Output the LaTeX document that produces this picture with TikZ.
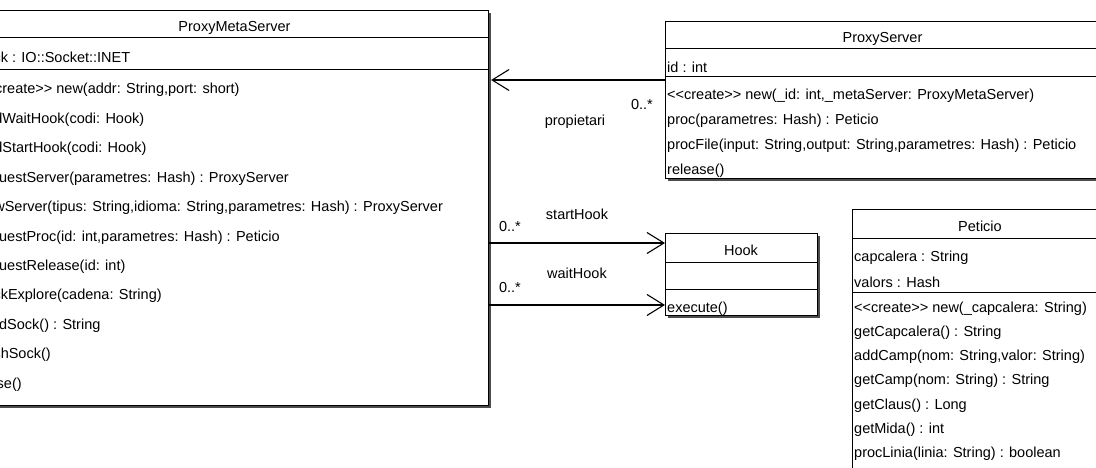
\documentclass[tikz,border=0pt]{standalone}
\usepackage{fontspec}
\setmainfont{Liberation Sans}
\usetikzlibrary{arrows.meta,shadows}
\newcommand{\stereo}[1]{<\kern0pt<#1>\kern0pt>}
\begin{document}
\begin{tikzpicture}[x=1pt,y=-1pt,
  font=\fontsize{14.5}{17}\selectfont,
  umlbox/.style={draw=black, line width=1.1pt, fill=white, anchor=north west, inner sep=0pt,
    general shadow={fill=black!70, shadow xshift=2pt, shadow yshift=-2pt}},
  sepline/.style={line width=1pt},
  txt/.style={anchor=base west, inner sep=0pt},
  ttl/.style={anchor=base, inner sep=0pt},
  lbl/.style={inner sep=0pt},
  nav/.style={line width=1.1pt, -{Straight Barb[length=17pt,width=21pt]}}
]
\useasboundingbox (0,0) rectangle (1096,468);
\clip (0,0) rectangle (1096,468);

% ---------------- ProxyMetaServer
\node[umlbox, minimum width=512pt, minimum height=395pt] (pms) at (-24,10) {};
\draw[sepline] ([yshift=-28pt]pms.north west) -- ([yshift=-28pt]pms.north east);
\draw[sepline] ([yshift=-60pt]pms.north west) -- ([yshift=-60pt]pms.north east);
\node[ttl] (pmsT) at (234.5,32) {ProxyMetaServer};
\node[txt] (pmsA) at (-22,63) {sock : IO::Socket::INET};
\node[txt] (pmsM0) at (-22,94) {\stereo{create} new(addr: String,port: short)};
\node[txt] (pmsM1) at (-22,123.4) {addWaitHook(codi: Hook)};
\node[txt] (pmsM2) at (-22,152.8) {addStartHook(codi: Hook)};
\node[txt] (pmsM3) at (-22,182.2) {requestServer(parametres: Hash) : ProxyServer};
\node[txt] (pmsM4) at (-22,211.6) {newServer(tipus: String,idioma: String,parametres: Hash) : ProxyServer};
\node[txt] (pmsM5) at (-22,241) {requestProc(id: int,parametres: Hash) : Peticio};
\node[txt] (pmsM6) at (-22,270.4) {requestRelease(id: int)};
\node[txt] (pmsM7) at (-22,299.8) {sockExplore(cadena: String)};
\node[txt] (pmsM8) at (-22,329.2) {readSock() : String};
\node[txt] (pmsM9) at (-22,358.6) {flushSock()};
\node[txt] (pmsM10) at (-22,388) {close()};

% ---------------- ProxyServer
\node[umlbox, minimum width=435pt, minimum height=157pt] (ps) at (665,21) {};
\draw[sepline] ([yshift=-28pt]ps.north west) -- ([yshift=-28pt]ps.north east);
\draw[sepline] ([yshift=-55.5pt]ps.north west) -- ([yshift=-55.5pt]ps.north east);
\node[ttl] (psT) at (882.5,43) {ProxyServer};
\node[txt] (psA) at (667,73) {id : int};
\node[txt] (psM0) at (667,100) {\stereo{create} new(\_id: int,\_metaServer: ProxyMetaServer)};
\node[txt] (psM1) at (667,125) {proc(parametres: Hash) : Peticio};
\node[txt] (psM2) at (667,150) {procFile(input: String,output: String,parametres: Hash) : Peticio};
\node[txt] (psM3) at (667,175) {release()};

% ---------------- Hook
\node[umlbox, minimum width=152pt, minimum height=82pt] (hook) at (665,233) {};
\draw[sepline] ([yshift=-29pt]hook.north west) -- ([yshift=-29pt]hook.north east);
\draw[sepline] ([yshift=-56pt]hook.north west) -- ([yshift=-56pt]hook.north east);
\node[ttl] (hookT) at (741,255) {Hook};
\node[txt] (hookM0) at (667,312) {execute()};

% ---------------- Peticio
\node[umlbox, minimum width=256pt, minimum height=290pt] (pet) at (852,209) {};
\draw[sepline] ([yshift=-29pt]pet.north west) -- ([yshift=-29pt]pet.north east);
\draw[sepline] ([yshift=-83pt]pet.north west) -- ([yshift=-83pt]pet.north east);
\node[ttl] (petT) at (980,232) {Peticio};
\node[txt] (petA0) at (854,261.5) {capcalera : String};
\node[txt] (petA1) at (854,287) {valors : Hash};
\node[txt] (petM0) at (854,312) {\stereo{create} new(\_capcalera: String)};
\node[txt] (petM1) at (854,336.3) {getCapcalera() : String};
\node[txt] (petM2) at (854,360.6) {addCamp(nom: String,valor: String)};
\node[txt] (petM3) at (854,384.9) {getCamp(nom: String) : String};
\node[txt] (petM4) at (854,409.2) {getClaus() : Long};
\node[txt] (petM5) at (854,433.5) {getMida() : int};
\node[txt] (petM6) at (854,457.8) {procLinia(linia: String) : boolean};

% ---------------- associations
\draw[nav] (ps.west |- 0,80) -- ([xshift=2pt]pms.east |- 0,80);
\node[lbl] (l1m) at (642,105) {0..*};
\node[lbl] (l1n) at (575,122) {propietari};

\draw[nav] (pms.east |- 0,243) -- (hook.west |- 0,243);
\node[lbl] (l2n) at (577,214) {startHook};
\node[lbl] (l2m) at (510,227) {0..*};

\draw[nav] (pms.east |- 0,305) -- (hook.west |- 0,305);
\node[lbl] (l3n) at (577,273) {waitHook};
\node[lbl] (l3m) at (510,288) {0..*};
\end{tikzpicture}
\end{document}
